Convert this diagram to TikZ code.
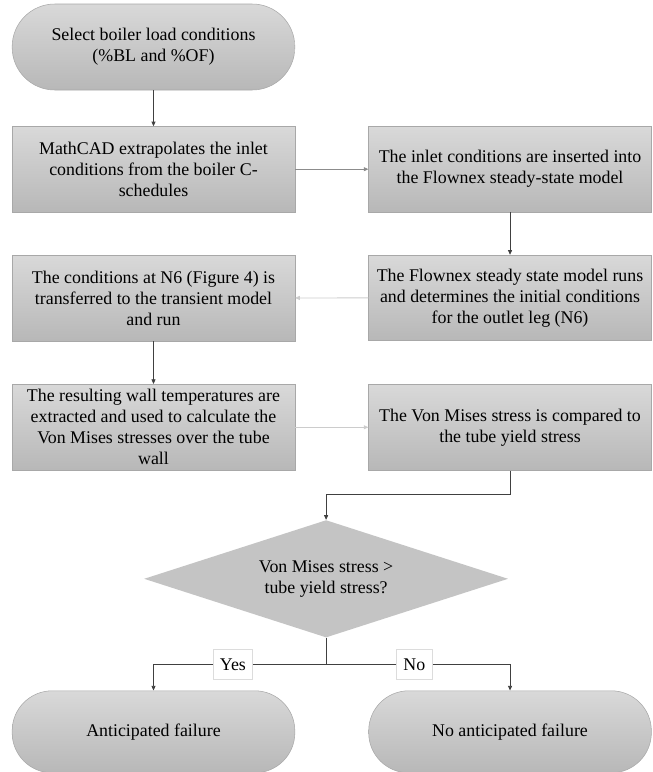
\documentclass[tikz,border=0pt]{standalone}
\usepackage{fontspec}
\setmainfont{Liberation Serif}
\usepackage{xcolor}
\usepackage{tikz}
\usetikzlibrary{positioning,shapes.geometric,arrows.meta}
\definecolor{shadetop}{gray}{0.85}
\definecolor{shadebot}{gray}{0.72}
\definecolor{edgegray}{gray}{0.66}
\definecolor{diamondgray}{gray}{0.77}
\definecolor{linedark}{gray}{0.25}
\definecolor{linemid}{gray}{0.55}
\definecolor{linelight}{gray}{0.8}
\tikzstyle{terminal} = [rectangle, rounded corners=32pt, minimum width=212pt, minimum height=64.5pt, inner xsep=2pt, align=center, draw=edgegray, top color=shadetop, bottom color=shadebot, font=\fontsize{13.4}{15.75}\selectfont]
\tikzstyle{process} = [rectangle, minimum width=212pt, minimum height=64pt, inner xsep=2pt, align=center, draw=edgegray, top color=shadetop, bottom color=shadebot, font=\fontsize{13.4}{15.75}\selectfont]
\tikzstyle{decision} = [diamond, aspect=3.1, minimum width=273pt, minimum height=88pt, inner sep=0pt, align=center, fill=diamondgray, font=\fontsize{13.4}{15.75}\selectfont]
\tikzstyle{answer} = [rectangle, draw=edgegray!40, fill=white, minimum height=22.5pt, inner xsep=5pt, font=\fontsize{13.4}{15}\selectfont]
\tikzstyle{line} = [draw=linedark, line width=0.6pt]
\tikzstyle{arrow} = [line, -{Triangle[length=3.5pt,width=3pt]}]

\begin{document}
\begin{tikzpicture}[node distance=32pt]

	\useasboundingbox (-115.125pt,35.25pt) rectangle (374.625pt,-543.75pt);

	\node (start) [terminal] {Select boiler load conditions\\(\%BL and \%OF)};
	\node (extrap) [process, below=27pt of start] {MathCAD extrapolates the inlet\\conditions from the boiler C-\\schedules};
	\node (insert) [process, right=55pt of extrap] {The inlet conditions are inserted into\\the Flownex steady-state model};
	\node (steady) [process, below=of insert] {The Flownex steady state model runs\\and determines the initial conditions\\for the outlet leg (N6)};
	\node (transient) [process, below=of extrap, minimum height=64.5pt] {The conditions at N6 (Figure 4) is\\transferred to the transient model\\and run};
	\node (wall) [process, below=of transient, minimum height=64.5pt] {The resulting wall temperatures are\\extracted and used to calculate the\\Von Mises stresses over the tube\\wall};
	\node (compare) [process, right=55pt of wall, minimum height=64.5pt] {The Von Mises stress is compared to\\the tube yield stress};
	\node (decide) [decision, below=37pt of wall.south east, xshift=23.25pt] {Von Mises stress >\\tube yield stress?};
	\node (fail) [terminal, rounded corners=30pt, minimum height=61.5pt, below=165pt of wall] {Anticipated failure};
	\node (nofail) [terminal, rounded corners=30pt, minimum height=61.5pt, below=165pt of compare] {No anticipated failure};

	\draw [arrow] (start) -- (extrap);
	\draw [arrow, draw=linemid] (extrap) -- (insert);
	\draw [arrow] (insert) -- (steady);
	\draw [arrow, draw=linelight] (steady) -- (transient);
	\draw [arrow] (transient) -- (wall);
	\draw [arrow, draw=linelight] (wall) -- (compare);
	\draw [arrow] (compare.south) -- ++(0,-18pt) -| (decide.north);
	\draw [line] (decide.south) -- ++(0,-20.25pt) coordinate (split);
	\draw [arrow] (split) -| node[answer, pos=0.27] {Yes} (fail.north);
	\draw [arrow] (split) -| node[answer, pos=0.24] {No} (nofail.north);

\end{tikzpicture}
\end{document}
